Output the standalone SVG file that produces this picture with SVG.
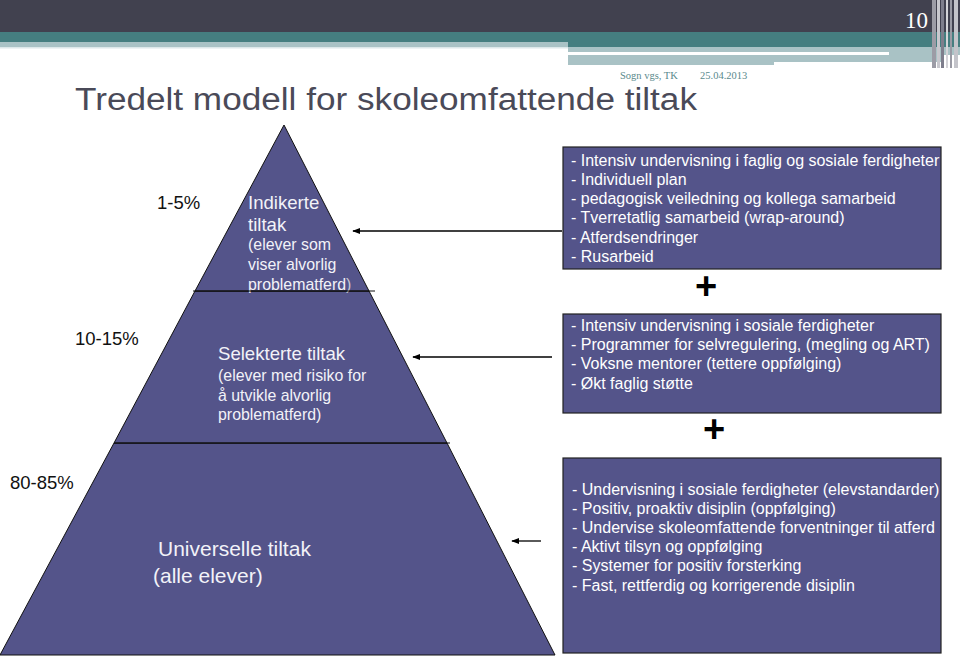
<svg xmlns="http://www.w3.org/2000/svg" width="960" height="656" viewBox="0 0 960 656">
<style>
.lbl{font-family:"Liberation Sans",Arial,sans-serif;font-size:18.5px;fill:#111}
.pw{font-family:"Liberation Sans",Arial,sans-serif;fill:#f2f2f8}
.bt{font-family:"Liberation Sans",Arial,sans-serif;font-size:16px;fill:#ffffff}
.tier{fill:#54548a;stroke:#111;stroke-width:1}
.box{fill:#54548a;stroke:#222;stroke-width:1.2}
.plus{font-family:"Liberation Sans",Arial,sans-serif;font-weight:bold;font-size:38px;fill:#000}
.conn{stroke:#000;stroke-width:1.3;fill:none;marker-end:url(#ah)}
</style>
<defs>
<marker id="ah" viewBox="0 0 10 10" refX="9" refY="5" markerWidth="8" markerHeight="8" markerUnits="userSpaceOnUse" orient="auto">
<path d="M0,1 L10,5 L0,9 Z" fill="#000"/>
</marker>
</defs>
<rect width="960" height="656" fill="#fff"/>
<g id="header">
<rect x="0" y="0" width="960" height="32" fill="#41414f"/>
<rect x="0" y="32" width="960" height="10" fill="#457e80"/>
<rect x="0" y="42" width="568" height="5" fill="#a9c2c5"/>
<rect x="0" y="47" width="568" height="1.5" fill="#dde8ea"/>
<rect x="568" y="42" width="392" height="5" fill="#457e80"/>
<rect x="568" y="47" width="392" height="5" fill="#a9c2c5"/>
<rect x="568" y="52" width="321" height="3" fill="#ffffff"/>
<rect x="889" y="52" width="71" height="3" fill="#a9c2c5"/>
<rect x="568" y="55" width="206" height="10" fill="#a9c2c5"/>
<rect x="774" y="55" width="170" height="7" fill="#a9c2c5"/>
<rect x="932" y="0" width="4" height="68" fill="#9c9ca6"/>
<rect x="937" y="0" width="3" height="68" fill="#c8c8ce"/>
<rect x="941" y="0" width="3" height="68" fill="#7e7e8c"/>
<rect x="946" y="0" width="2" height="68" fill="#d4d4d8"/>
<rect x="950" y="0" width="2" height="68" fill="#9a9aa4"/>
<rect x="954" y="0" width="4" height="68" fill="#c4c4ca"/>
<text x="905" y="28" font-family="Liberation Serif,serif" font-size="23" fill="#fff">10</text>
<text x="620" y="79" font-family="Liberation Serif,serif" font-size="10.5" fill="#5a8a8c">Sogn vgs, TK</text>
<text x="700" y="79" font-family="Liberation Serif,serif" font-size="10.5" fill="#5a8a8c">25.04.2013</text>
<text x="75" y="110" font-family="Liberation Sans,sans-serif" font-size="31" fill="#4a4a58" textLength="622" lengthAdjust="spacingAndGlyphs">Tredelt modell for skoleomfattende tiltak</text>
</g>
<g id="tier-bottom">
<polygon class="tier" points="114,443 447,443 555,655 0,655"/>
<text class="pw" x="158" y="556" font-size="21">Universelle tiltak</text>
<text class="pw" x="153" y="583" font-size="21">(alle elever)</text>
<text class="lbl" x="10" y="489">80-85%</text>
</g>
<g id="tier-mid">
<polygon class="tier" points="195,291 369,291 447,443 114,443"/>
<line x1="114" y1="443" x2="450" y2="443" stroke="#111" stroke-width="1"/>
<text class="pw" x="218" y="360" font-size="18.6">Selekterte tiltak</text>
<text class="pw" x="218" y="381" font-size="15.9">(elever med risiko for</text>
<text class="pw" x="218" y="401" font-size="15.9">å utvikle alvorlig</text>
<text class="pw" x="218" y="420" font-size="15.9">problematferd)</text>
<text class="lbl" x="75" y="345">10-15%</text>
</g>
<g id="tier-top">
<polygon class="tier" points="284,125 195,291 369,291"/>
<text class="pw" x="248" y="209" font-size="18.6">Indikerte</text>
<text class="pw" x="248" y="231" font-size="18.6">tiltak</text>
<text class="pw" x="248" y="250" font-size="15.9">(elever som</text>
<text class="pw" x="248" y="270" font-size="15.9">viser alvorlig</text>
<text class="pw" x="248" y="290" font-size="15.9">problematferd<tspan fill="#c8c8d2">)</tspan></text>
<line x1="193" y1="291" x2="375" y2="291" stroke="#111" stroke-width="1"/>
<text class="lbl" x="157" y="209">1-5%</text>
</g>
<g id="box-indicated">
<rect class="box" x="563" y="147" width="378" height="122"/>
<text class="bt" x="571" y="166">- Intensiv undervisning i faglig og sosiale ferdigheter</text>
<text class="bt" x="571" y="185">- Individuell plan</text>
<text class="bt" x="571" y="204">- pedagogisk veiledning og kollega samarbeid</text>
<text class="bt" x="571" y="223">- Tverretatlig samarbeid (wrap-around)</text>
<text class="bt" x="571" y="243">- Atferdsendringer</text>
<text class="bt" x="571" y="262">- Rusarbeid</text>
<text class="plus" x="706" y="299" text-anchor="middle">+</text>
</g>
<g id="box-selected">
<rect class="box" x="563" y="314" width="378" height="99"/>
<text class="bt" x="571" y="331">- Intensiv undervisning i sosiale ferdigheter</text>
<text class="bt" x="571" y="350">- Programmer for selvregulering, (megling og ART)</text>
<text class="bt" x="571" y="369">- Voksne mentorer (tettere oppfølging)</text>
<text class="bt" x="571" y="389">- Økt faglig støtte</text>
<text class="plus" x="714" y="442" text-anchor="middle">+</text>
</g>
<g id="box-universal">
<rect class="box" x="563" y="458" width="378" height="195"/>
<text class="bt" x="572" y="495">- Undervisning i sosiale ferdigheter (elevstandarder)</text>
<text class="bt" x="572" y="514">- Positiv, proaktiv disiplin (oppfølging)</text>
<text class="bt" x="572" y="533">- Undervise skoleomfattende forventninger til atferd</text>
<text class="bt" x="572" y="552">- Aktivt tilsyn og oppfølging</text>
<text class="bt" x="572" y="571">- Systemer for positiv forsterking</text>
<text class="bt" x="572" y="591">-   Fast, rettferdig og korrigerende disiplin</text>
</g>
<g id="connectors">
<line class="conn" x1="562" y1="231" x2="353" y2="231"/>
<line class="conn" x1="552" y1="357" x2="413" y2="357"/>
<line class="conn" x1="541" y1="541" x2="512" y2="541"/>
</g>
</svg>
